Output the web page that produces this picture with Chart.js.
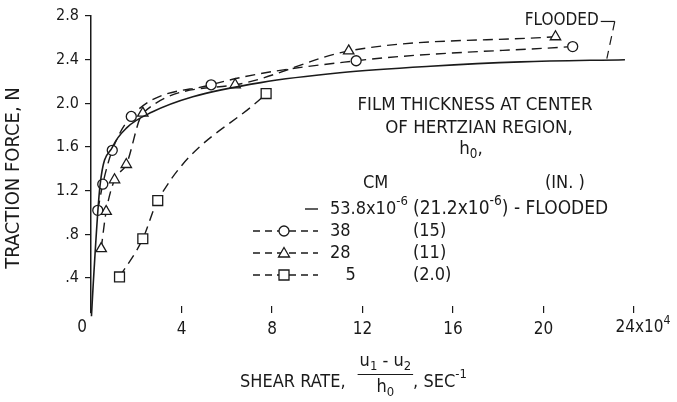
<!DOCTYPE html>
<html>
<head>
<meta charset="utf-8">
<script src="https://cdn.jsdelivr.net/npm/chart.js@4/dist/chart.umd.min.js"></script>
<style>
  html, body { margin: 0; padding: 0; background: #fff; }
</style>
</head>
<body>
<canvas id="traction-chart" width="677" height="402"></canvas>
<script>
// shear rate in units of 10^4 1/s, traction force in N
var xTicks = [0, 4, 8, 12, 16, 20, 24];
var yTicks = [0.4, 0.8, 1.2, 1.6, 2.0, 2.4, 2.8];
var yTickLabels = [".4", ".8", "1.2", "1.6", "2.0", "2.4", "2.8"];

// flooded, 53.8x10^-6 cm (faired solid curve)
var floodedX = [0.02, 0.1, 0.4, 0.95, 1.6, 2.7, 4.5, 7.5, 11, 15, 19, 23.6];
var floodedY = [0.05, 0.35, 1.25, 1.6, 1.78, 1.92, 2.06, 2.19, 2.28, 2.34, 2.38, 2.40];

// 38 cm x10^-6 (circles)
var h38X = [0.30, 0.52, 0.94, 1.78, 5.31, 11.72, 21.29];
var h38Y = [1.02, 1.26, 1.57, 1.88, 2.17, 2.39, 2.52];

// 28 (triangles)
var h28X = [0.45, 0.67, 1.04, 1.56, 2.29, 6.37, 11.39, 20.53];
var h28Y = [0.67, 1.01, 1.30, 1.44, 1.91, 2.17, 2.48, 2.61];

// 5 (squares)
var h5X = [1.26, 2.29, 2.95, 7.74];
var h5Y = [0.41, 0.76, 1.11, 2.09];

var TXT = "'DejaVu Sans Condensed', 'DejaVu Sans', sans-serif";
var INK = "#1a1a1a";

function pts(xs, ys) {
  return xs.map(function (x, i) { return { x: x, y: ys[i] }; });
}

// draw text pieces with sub/superscripts, starting at x (left), middle at y
function rich(c, x, y, parts, size) {
  c.textBaseline = "middle";
  c.textAlign = "left";
  parts.forEach(function (p) {
    var s = p.sup || p.sub ? size * 0.72 : size;
    var dy = p.sup ? -size * 0.42 : (p.sub ? size * 0.32 : 0);
    c.font = s + "px " + TXT;
    c.fillText(p.t, x, y + dy);
    x += c.measureText(p.t).width;
  });
  return x;
}
function richWidth(c, parts, size) {
  var w = 0;
  parts.forEach(function (p) {
    var s = p.sup || p.sub ? size * 0.72 : size;
    c.font = s + "px " + TXT;
    w += c.measureText(p.t).width;
  });
  return w;
}

function marker(c, kind, x, y) {
  c.save();
  c.setLineDash([]);
  c.fillStyle = "#fff";
  c.strokeStyle = INK;
  c.lineWidth = 1.3;
  c.beginPath();
  if (kind === "circle") c.arc(x, y, 5, 0, Math.PI * 2);
  if (kind === "triangle") { c.moveTo(x, y - 5.5); c.lineTo(x + 5.5, y + 4); c.lineTo(x - 5.5, y + 4); c.closePath(); }
  if (kind === "rect") c.rect(x - 5, y - 5, 10, 10);
  c.fill();
  c.stroke();
  c.restore();
}

var notes = {
  id: "notes",
  afterDraw: function (chart) {
    var c = chart.ctx;
    var xs = chart.scales.x, ys = chart.scales.y;
    var labY = xs.top + 15;
    c.save();
    c.fillStyle = INK;
    c.strokeStyle = INK;

    // y title
    c.save();
    c.translate(14, 178);
    c.rotate(-Math.PI / 2);
    c.font = "20px " + TXT;
    c.textAlign = "center";
    c.textBaseline = "middle";
    c.fillText("TRACTION FORCE, N", 0, 0);
    c.restore();

    // origin label sits left of the axis, last label carries the exponent
    c.font = "17px " + TXT;
    c.textAlign = "center";
    c.textBaseline = "middle";
    c.fillText("0", xs.getPixelForValue(0) - 9, labY);
    c.font = "17px " + TXT;
    var w24 = c.measureText("24").width;
    rich(c, xs.getPixelForValue(24) - w24 + 1, labY, [{ t: "24x10" }, { t: "4", sup: true }], 17);

    // x title with the fraction
    var xe = rich(c, 240, 382, [{ t: "SHEAR RATE," }], 18);
    var num = [{ t: "u" }, { t: "1", sub: true }, { t: " - " }, { t: "u" }, { t: "2", sub: true }];
    var fx = xe + 14;
    var nw = richWidth(c, num, 18);
    rich(c, fx, 361, num, 18);
    c.lineWidth = 1;
    c.beginPath();
    c.moveTo(fx - 2, 374.5);
    c.lineTo(fx + nw + 2, 374.5);
    c.stroke();
    var den = [{ t: "h" }, { t: "0", sub: true }];
    var dw = richWidth(c, den, 18);
    rich(c, fx + (nw - dw) / 2, 387, den, 18);
    rich(c, fx + nw + 2, 382, [{ t: ", SEC" }, { t: "-1", sup: true }], 18);

    // FLOODED label and leader
    c.font = "17px " + TXT;
    c.textAlign = "right";
    c.textBaseline = "middle";
    var lx = xs.getPixelForValue(23.15), ly = ys.getPixelForValue(2.75);
    c.fillText("FLOODED", lx - 16, ly - 1);
    c.lineWidth = 1.2;
    c.beginPath();
    c.moveTo(lx - 14, ly);
    c.lineTo(lx, ly);
    c.stroke();
    c.setLineDash([9, 6]);
    c.beginPath();
    c.moveTo(lx, ly);
    c.lineTo(xs.getPixelForValue(22.8), ys.getPixelForValue(2.41));
    c.stroke();
    c.setLineDash([]);

    // legend block
    c.textAlign = "center";
    c.textBaseline = "middle";
    c.font = "18.5px " + TXT;
    c.fillText("FILM THICKNESS AT CENTER", 475, 105);
    c.fillText("OF HERTZIAN REGION,", 479, 128);
    var hp = [{ t: "h" }, { t: "0", sub: true }, { t: "," }];
    rich(c, 471 - richWidth(c, hp, 18.5) / 2, 149, hp, 18.5);
    rich(c, 363, 183, [{ t: "CM" }], 18);
    rich(c, 545, 183, [{ t: "(IN. )" }], 18);

    var rowsY = [209, 231, 253, 275];
    var kinds = [null, "circle", "triangle", "rect"];
    var cm = [[{ t: "53.8x10" }, { t: "-6", sup: true }], [{ t: "38" }], [{ t: "28" }], [{ t: "   5" }]];
    var inch = [[{ t: "(21.2x10" }, { t: "-6", sup: true }, { t: ") - FLOODED" }], [{ t: "(15)" }], [{ t: "(11)" }], [{ t: "(2.0)" }]];
    rowsY.forEach(function (ry, i) {
      c.lineWidth = 1.4;
      c.beginPath();
      if (i === 0) {
        c.moveTo(305, ry);
        c.lineTo(318, ry);
      } else {
        c.setLineDash([7, 5]);
        c.moveTo(253, ry);
        c.lineTo(318, ry);
      }
      c.stroke();
      c.setLineDash([]);
      if (kinds[i]) marker(c, kinds[i], 284, ry);
      c.fillStyle = INK;
      rich(c, 330, ry, cm[i], 18);
      rich(c, 413, ry, inch[i], i === 0 ? 19 : 18);
    });
    c.restore();
  }
};

var dashed = {
  showLine: true,
  borderColor: INK,
  borderWidth: 1.4,
  borderDash: [10, 6],
  cubicInterpolationMode: "monotone",
  pointBackgroundColor: "#fff",
  pointBorderColor: INK,
  pointBorderWidth: 1.3,
  clip: false
};

function series(label, xs, ys, style, radius) {
  return Object.assign({}, dashed, {
    label: label,
    data: pts(xs, ys),
    pointStyle: style,
    pointRadius: radius
  });
}

var ctx = document.getElementById("traction-chart");
new Chart(ctx, {
  type: "scatter",
  data: {
    datasets: [
      {
        label: "53.8",
        data: pts(floodedX, floodedY),
        showLine: true,
        borderColor: INK,
        borderWidth: 1.6,
        pointRadius: 0,
        cubicInterpolationMode: "monotone",
        clip: false
      },
      series("38", h38X, h38Y, "circle", 5),
      series("28", h28X, h28Y, "triangle", 6),
      series("5", h5X, h5Y, "rect", 7)
    ]
  },
  options: {
    responsive: false,
    animation: false,
    devicePixelRatio: 1,
    layout: { padding: { top: 16, right: 43, bottom: 0, left: 0 } },
    plugins: { legend: { display: false }, tooltip: { enabled: false } },
    scales: {
      x: {
        type: "linear",
        min: 0,
        max: 24,
        afterBuildTicks: function (s) { s.ticks = xTicks.map(function (v) { return { value: v }; }); },
        afterFit: function (s) { s.height = 89; },
        border: { display: false },
        grid: {
          drawOnChartArea: false,
          tickLength: -7,
          lineWidth: 1.2,
          color: function (c) { return c.tick && c.tick.value === 0 ? "rgba(0,0,0,0)" : INK; }
        },
        ticks: {
          color: INK,
          padding: 13,
          maxRotation: 0,
          font: { family: TXT, size: 17 },
          callback: function (v) { return v === 0 || v === 24 ? "" : String(v); }
        }
      },
      y: {
        min: 0.08,
        max: 2.8,
        afterBuildTicks: function (s) { s.ticks = yTicks.map(function (v) { return { value: v }; }); },
        afterFit: function (s) { s.width = 91; },
        border: { color: INK, width: 1.5 },
        grid: { drawOnChartArea: false, tickLength: 6, color: INK, lineWidth: 1.2 },
        ticks: {
          color: INK,
          padding: 6,
          font: { family: TXT, size: 16 },
          callback: function (v, i) { return yTickLabels[i]; }
        }
      }
    }
  },
  plugins: [notes]
});
</script>
</body>
</html>
